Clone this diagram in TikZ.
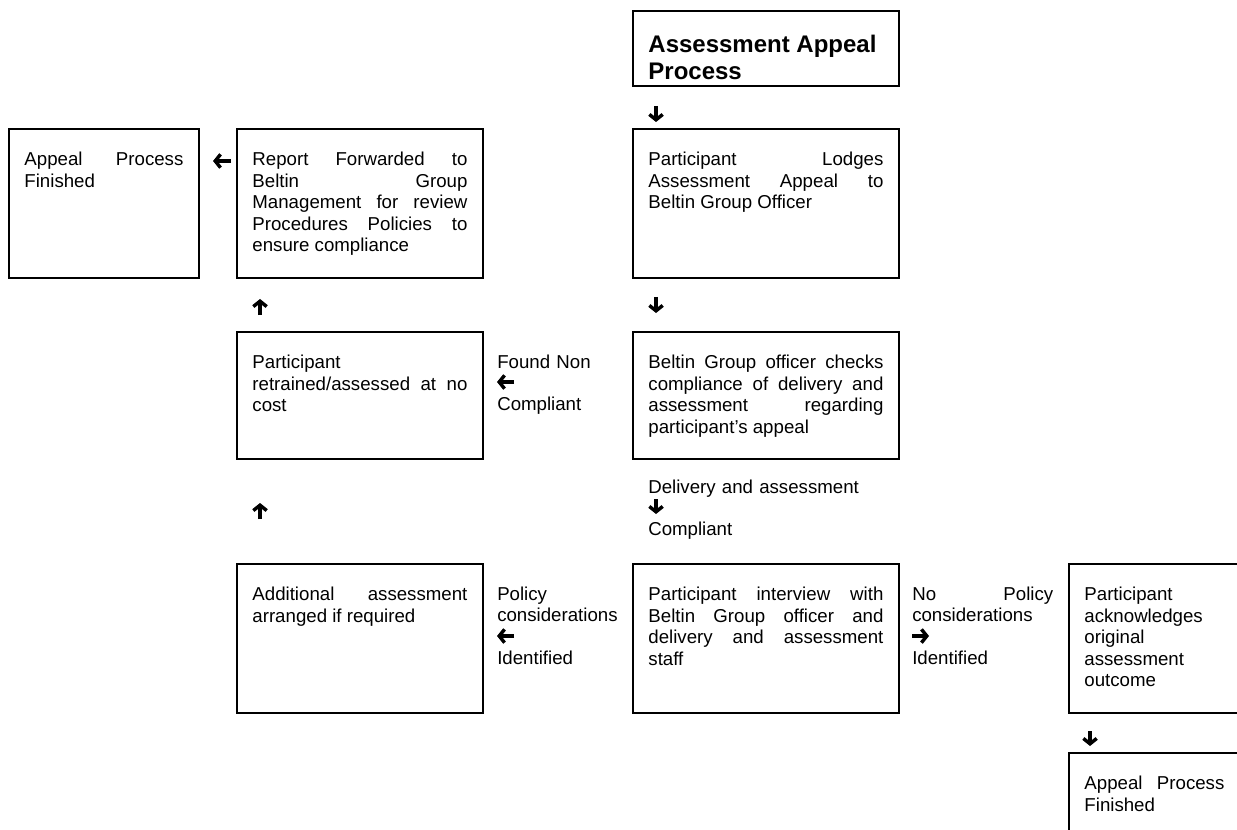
\documentclass[tikz,border=0pt]{standalone}
\usepackage{fontspec}
\setmainfont{Liberation Sans}
\usepackage{tikz}
\usetikzlibrary{arrows.meta}

\begin{document}
\begin{tikzpicture}[x=0.75pt, y=-0.75pt,
  every node/.style={font=\fontsize{14}{16.1}\selectfont},
  stepbox/.style={draw, line width=1.4pt, anchor=north west, inner xsep=11.625pt, inner ysep=0pt, align=justify, text height=27.75pt},
  widebox/.style={stepbox, text width=176.25pt},
  midbox/.style={stepbox, text width=161.25pt},
  tallrow/.style={text depth=84pt},
  lowrow/.style={text depth=67.5pt},
  cond/.style={anchor=base west, inner sep=0pt, align=left},
  flowarrow/.style={line width=2.6pt, -{Straight Barb[length=4pt,width=10pt]}}]
\useasboundingbox (0,0) rectangle (1237,830);
\clip (0,0) rectangle (1237,830);

% Title
\node[widebox, text height=31.5pt, text depth=24.75pt, font=\fontsize{18}{20.25}\selectfont\bfseries] (title) at (632,10) {Assessment Appeal\newline Process};

% Officer column
\node[widebox, tallrow] (lodges) at (632,128) {Participant Lodges\linebreak Assessment Appeal to\linebreak Beltin Group Officer};
\node[widebox, lowrow] (checks) at (632,331) {Beltin Group officer checks\linebreak compliance of delivery and\linebreak assessment regarding\linebreak participant’s appeal};
\node[widebox, tallrow] (interview) at (632,563) {Participant interview with\linebreak Beltin Group officer and\linebreak delivery and assessment\linebreak staff};

% Non compliant column
\node[midbox, tallrow] (report) at (236,128) {Report Forwarded to\linebreak Beltin Group\linebreak Management for review\linebreak Procedures Policies to\linebreak ensure compliance};
\node[midbox, lowrow] (retrain) at (236,331) {Participant\newline retrained/assessed at no\linebreak cost};
\node[midbox, tallrow] (extra) at (236,563) {Additional assessment\linebreak arranged if required};
\node[stepbox, text width=119.25pt, tallrow] (doneL) at (8,128) {Appeal Process\linebreak Finished};

% Original outcome column
\node[stepbox, text width=105pt, tallrow] (ack) at (1068,563) {Participant\newline acknowledges\newline original\newline assessment\newline outcome};
\node[stepbox, text width=105pt, tallrow] (doneR) at (1068,752) {Appeal Process\linebreak Finished};

% Conditions
\node[cond, text width=101.25pt] (found) at (497,368) {Found Non\newline\mbox{}\newline Compliant};
\node[cond, text width=172.5pt] (deliv) at (648,493) {Delivery and assessment\newline\mbox{}\newline Compliant};
\node[cond, text width=101.25pt] (policy) at (497,600) {Policy\newline considerations\newline\mbox{}\newline Identified};
\node[cond, text width=105.75pt, align=justify] (nopolicy) at (912,600) {No Policy\linebreak considerations\newline\mbox{}\newline Identified};

% Arrows
\coordinate (ttl-a) at (656,106);  \coordinate (ttl-b) at (656,122);
\coordinate (lod-a) at (656,297);  \coordinate (lod-b) at (656,313);
\coordinate (rep-a) at (231,161);  \coordinate (rep-b) at (213,161);
\coordinate (ret-a) at (260,315);  \coordinate (ret-b) at (260,299);
\coordinate (ext-a) at (260,519);  \coordinate (ext-b) at (260,503);
\coordinate (fnd-a) at (514,382);  \coordinate (fnd-b) at (497,382);
\coordinate (del-a) at (656,499);  \coordinate (del-b) at (656,514);
\coordinate (pol-a) at (514,636);  \coordinate (pol-b) at (497,636);
\coordinate (nop-a) at (912,636);  \coordinate (nop-b) at (929,636);
\coordinate (ack-a) at (1090,731); \coordinate (ack-b) at (1090,746);
\draw[flowarrow] (ttl-a) -- (ttl-b);
\draw[flowarrow] (lod-a) -- (lod-b);
\draw[flowarrow] (rep-a) -- (rep-b);
\draw[flowarrow] (ret-a) -- (ret-b);
\draw[flowarrow] (ext-a) -- (ext-b);
\draw[flowarrow] (fnd-a) -- (fnd-b);
\draw[flowarrow] (del-a) -- (del-b);
\draw[flowarrow] (pol-a) -- (pol-b);
\draw[flowarrow] (nop-a) -- (nop-b);
\draw[flowarrow] (ack-a) -- (ack-b);
\end{tikzpicture}
\end{document}
